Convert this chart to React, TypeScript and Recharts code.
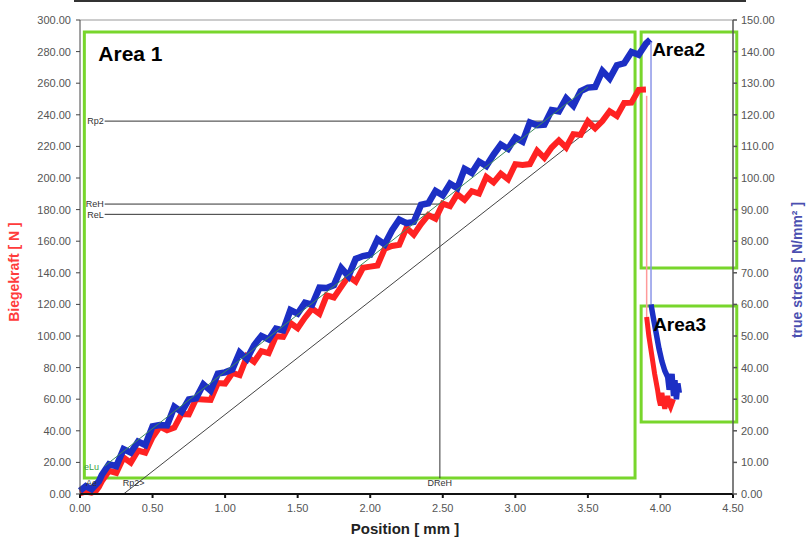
import { LineChart, Line, XAxis, YAxis, ReferenceLine, ReferenceArea, ReferenceDot } from "recharts"

// position [mm] of the sampled curve
const positionMm = [
  0.15, 0.2, 0.25, 0.3, 0.35, 0.4, 0.45, 0.5, 0.55, 0.6, 0.65, 0.7, 0.75, 0.8, 0.85, 0.9, 0.95, 1.0, 1.05,
  1.1, 1.15, 1.2, 1.25, 1.3, 1.35, 1.4, 1.45, 1.5, 1.55, 1.6, 1.65, 1.7, 1.75, 1.8, 1.85, 1.9, 1.95, 2.0,
  2.05, 2.1, 2.15, 2.2, 2.25, 2.3, 2.35, 2.4, 2.45, 2.5, 2.55, 2.6, 2.65, 2.7, 2.75, 2.8, 2.85, 2.9, 2.95,
  3.0, 3.05, 3.1, 3.15, 3.2, 3.25, 3.3, 3.35, 3.4, 3.45, 3.5, 3.55, 3.6, 3.65, 3.7, 3.75, 3.8, 3.85, 3.9,
]

// Biegekraft [N]
const biegekraft = [
  8, 14.7, 13.4, 23.1, 19.8, 27.5, 26.2, 35.9, 42.6, 40.3, 42.0, 50.7, 50.4, 60.1, 59.8, 59.5, 70.2, 69.9,
  76.6, 75.3, 87.0, 83.7, 90.4, 89.1, 99.8, 99.5, 108.2, 104.9, 111.6, 117.3, 114.0, 125.7, 124.4, 131.1,
  137.8, 134.5, 143.2, 143.9, 144.6, 155.3, 157.0, 157.7, 168.4, 164.1, 170.8, 176.5, 174.2, 183.7, 182.2,
  189.7, 186.2, 191.7, 190.2, 200.7, 197.2, 202.7, 199.2, 208.8, 208.3, 208.8, 217.3, 212.8, 219.3, 223.8,
  219.3, 227.8, 227.3, 235.9, 231.4, 236.0, 242.2, 239.3, 247.5, 247.7, 255.8, 256.0,
]

// true stress [N/mm²]
const trueStress = [
  6.0, 9.4, 8.8, 14.2, 13.1, 16.6, 15.5, 21.4, 21.8, 21.7, 27.6, 26.0, 29.9, 30.3, 34.7, 32.7, 38.1, 38.5,
  39.4, 44.8, 42.7, 47.1, 50.0, 48.9, 52.3, 51.8, 58.2, 57.1, 60.5, 59.9, 65.3, 65.2, 66.1, 71.5, 68.9,
  74.4, 75.3, 75.7, 80.6, 79.0, 83.4, 86.8, 85.7, 86.1, 91.5, 92.0, 95.9, 94.5, 98.2, 96.8, 102.9, 101.6,
  105.2, 103.8, 107.4, 110.6, 109.2, 112.8, 111.5, 117.6, 116.7, 116.9, 121.5, 121.1, 125.2, 122.9, 127.5,
  128.6, 128.8, 133.9, 131.5, 135.7, 136.3, 139.9, 139.0, 142.5,
]

// start of the test, before contact
const startMm = [0.0, 0.04, 0.08, 0.11, 0.13]
const startKraft = [0.5, 1.5, 0.8, 2.0, 4.5]
const startStress = [1.0, 2.5, 1.5, 3.0, 4.0]

// fracture
const kraftDropMm = [3.905, 3.905]
const kraftDrop = [252, 112]
const kraftTailMm = [3.905, 3.92, 3.94, 3.96, 3.98, 3.99, 4.0, 4.01, 4.02, 4.03, 4.05, 4.06, 4.07, 4.09]
const kraftTail = [112, 100, 88, 76, 66, 60, 56, 64, 58, 54, 62, 57, 55, 60]

const stressPeakMm = [3.93]
const stressPeak = [143.8]
const stressDropMm = [3.935, 3.935]
const stressDrop = [143, 60]
const stressTailMm = [3.935, 3.95, 3.97, 3.99, 4.01, 4.03, 4.05, 4.06, 4.08, 4.09, 4.1, 4.11, 4.12, 4.13]
const stressTail = [60, 56, 51, 46, 42, 39, 37, 33, 38, 31, 36, 30, 35, 32]

// characteristic values
const rp2 = { x: 3.585, y: 236 }
const reH = { x: 2.48, y: 183.5 }
const reL = { x: 2.48, y: 177 }
const labelStartMm = 0.17
const offsetLineStart = { x: 0.3, y: 0 }
const elasticFit = [{ x: 0.17, y: 17.7 }, { x: 3.5, y: 257.6 }]

const xTicks = [0, 0.5, 1, 1.5, 2, 2.5, 3, 3.5, 4, 4.5]
const leftTicks = [0, 20, 40, 60, 80, 100, 120, 140, 160, 180, 200, 220, 240, 260, 280, 300]
const rightTicks = [0, 10, 20, 30, 40, 50, 60, 70, 80, 90, 100, 110, 120, 130, 140, 150]

const zip = (xs: number[], ys: number[]) => xs.map((x, i) => ({ x, y: ys[i] }))

const kraftData = [...zip(startMm, startKraft), ...zip(positionMm, biegekraft)]
const stressData = [...zip(startMm, startStress), ...zip(positionMm, trueStress), ...zip(stressPeakMm, stressPeak)]

const FONT = '"Liberation Sans", Arial, sans-serif'
const GREEN = "#78d62c"
const RED = "#ff2222"
const BLUE = "#1c2fc4"
const fmt = (v: number) => v.toFixed(2)
const tick = { fontSize: 11, fill: "#555", fontFamily: FONT }
const small = { fontSize: 9, fill: "#333", fontFamily: FONT }
const areaLabel = { position: "insideTopLeft" as const, fontWeight: 700, fill: "#000", fontFamily: FONT }

export default function App() {
  return (
    <div style={{ position: "absolute", left: 0, top: 0, width: 807, height: 538, background: "#fff", fontFamily: FONT }}>
      <div style={{ position: "absolute", left: 74, top: 0, width: 672, height: 2, background: "#333" }} />
      <LineChart width={807} height={538} margin={{ top: 20, right: 0, bottom: 0, left: 0 }}>
        <XAxis
          type="number"
          dataKey="x"
          domain={[0, 4.5]}
          ticks={xTicks}
          tickFormatter={fmt}
          tick={tick}
          height={44}
          tickSize={4}
          tickMargin={6}
          stroke="#111"
          strokeWidth={2}
          allowDuplicatedCategory={false}
        />
        <YAxis
          yAxisId="left"
          type="number"
          domain={[0, 300]}
          ticks={leftTicks}
          tickFormatter={fmt}
          tick={tick}
          width={80}
          tickSize={4}
          tickMargin={5}
          stroke="#444"
        />
        <YAxis
          yAxisId="right"
          orientation="right"
          type="number"
          domain={[0, 150]}
          ticks={rightTicks}
          tickFormatter={fmt}
          tick={tick}
          width={74}
          tickSize={4}
          tickMargin={4}
          stroke="#555"
          strokeWidth={1.5}
        />
        <ReferenceLine yAxisId="left" y={300} stroke="#999" />

        <ReferenceLine yAxisId="left" segment={[{ x: labelStartMm, y: rp2.y }, rp2]} stroke="#333" />
        <ReferenceLine yAxisId="left" segment={[{ x: labelStartMm, y: reH.y }, reH]} stroke="#333" />
        <ReferenceLine yAxisId="left" segment={[{ x: labelStartMm, y: reL.y }, reL]} stroke="#333" />
        <ReferenceLine yAxisId="left" segment={[{ x: reH.x, y: reH.y }, { x: reH.x, y: 10 }]} stroke="#333" />
        <ReferenceLine yAxisId="left" segment={[offsetLineStart, rp2]} stroke="#444" />

        <Line
          yAxisId="left"
          data={kraftData}
          dataKey="y"
          stroke={RED}
          strokeWidth={6}
          dot={false}
          activeDot={false}
          isAnimationActive={false}
        />
        <Line
          yAxisId="left"
          data={zip(kraftDropMm, kraftDrop)}
          dataKey="y"
          stroke="#ff9a9a"
          strokeWidth={1.5}
          dot={false}
          activeDot={false}
          isAnimationActive={false}
        />
        <Line
          yAxisId="left"
          data={zip(kraftTailMm, kraftTail)}
          dataKey="y"
          stroke={RED}
          strokeWidth={5}
          dot={false}
          activeDot={false}
          isAnimationActive={false}
        />
        <Line
          yAxisId="right"
          data={stressData}
          dataKey="y"
          stroke={BLUE}
          strokeWidth={6.5}
          dot={false}
          activeDot={false}
          isAnimationActive={false}
        />
        <Line
          yAxisId="right"
          data={zip(stressDropMm, stressDrop)}
          dataKey="y"
          stroke="#8c96e8"
          strokeWidth={1.5}
          dot={false}
          activeDot={false}
          isAnimationActive={false}
        />
        <Line
          yAxisId="right"
          data={zip(stressTailMm, stressTail)}
          dataKey="y"
          stroke={BLUE}
          strokeWidth={5.5}
          dot={false}
          activeDot={false}
          isAnimationActive={false}
        />

        <ReferenceLine yAxisId="left" segment={elasticFit} stroke="#3d8a5c" strokeWidth={1} />

        <ReferenceDot yAxisId="left" x={labelStartMm} y={rp2.y} r={0} fill="none" stroke="none"
          label={{ value: "Rp2", position: "left", offset: 1, ...small }} />
        <ReferenceDot yAxisId="left" x={labelStartMm} y={reH.y} r={0} fill="none" stroke="none"
          label={{ value: "ReH", position: "left", offset: 1, ...small }} />
        <ReferenceDot yAxisId="left" x={labelStartMm} y={reL.y} r={0} fill="none" stroke="none"
          label={{ value: "ReL", position: "left", offset: 1, ...small }} />
        <ReferenceDot yAxisId="left" x={reH.x} y={7} r={0} fill="none" stroke="none"
          label={{ value: "DReH", position: "center", ...small }} />
        <ReferenceDot yAxisId="left" x={0.08} y={7} r={0} fill="none" stroke="none"
          label={{ value: "Ae", position: "center", ...small }} />
        <ReferenceDot yAxisId="left" x={0.37} y={7} r={0} fill="none" stroke="none"
          label={{ value: "Rp2>", position: "center", ...small }} />
        <ReferenceDot yAxisId="left" x={0.08} y={17.5} r={0} fill="none" stroke="none"
          label={{ value: "eLu", position: "center", ...small, fill: "#3aa040" }} />

        <ReferenceArea yAxisId="left" x1={0.03} x2={3.825} y1={10.1} y2={292.4} ifOverflow="visible"
          fill="none" stroke={GREEN} strokeWidth={3}
          label={{ value: "Area 1", offset: 14, fontSize: 21, ...areaLabel }} />
        <ReferenceArea yAxisId="left" x1={3.867} x2={4.526} y1={143} y2={292.4} ifOverflow="visible"
          fill="none" stroke={GREEN} strokeWidth={3}
          label={{ value: "Area2", offset: 11, fontSize: 19, ...areaLabel }} />
        <ReferenceArea yAxisId="left" x1={3.867} x2={4.526} y1={45.6} y2={119} ifOverflow="visible"
          fill="none" stroke={GREEN} strokeWidth={3}
          label={{ value: "Area3", offset: 12, fontSize: 19, ...areaLabel }} />
      </LineChart>

      <div style={{ position: "absolute", left: 14, top: 272, transform: "translate(-50%, -50%) rotate(-90deg)", whiteSpace: "nowrap", color: "#ff3b3b", fontWeight: 700, fontSize: 14 }}>
        Biegekraft [ N ]
      </div>
      <div style={{ position: "absolute", left: 797, top: 270, transform: "translate(-50%, -50%) rotate(-90deg)", whiteSpace: "nowrap", color: "#4b4fb0", fontWeight: 700, fontSize: 14 }}>
        true stress [ N/mm² ]
      </div>
      <div style={{ position: "absolute", left: 405, top: 528, transform: "translate(-50%, -50%)", whiteSpace: "nowrap", color: "#222", fontWeight: 700, fontSize: 15 }}>
        Position [ mm ]
      </div>
    </div>
  )
}
